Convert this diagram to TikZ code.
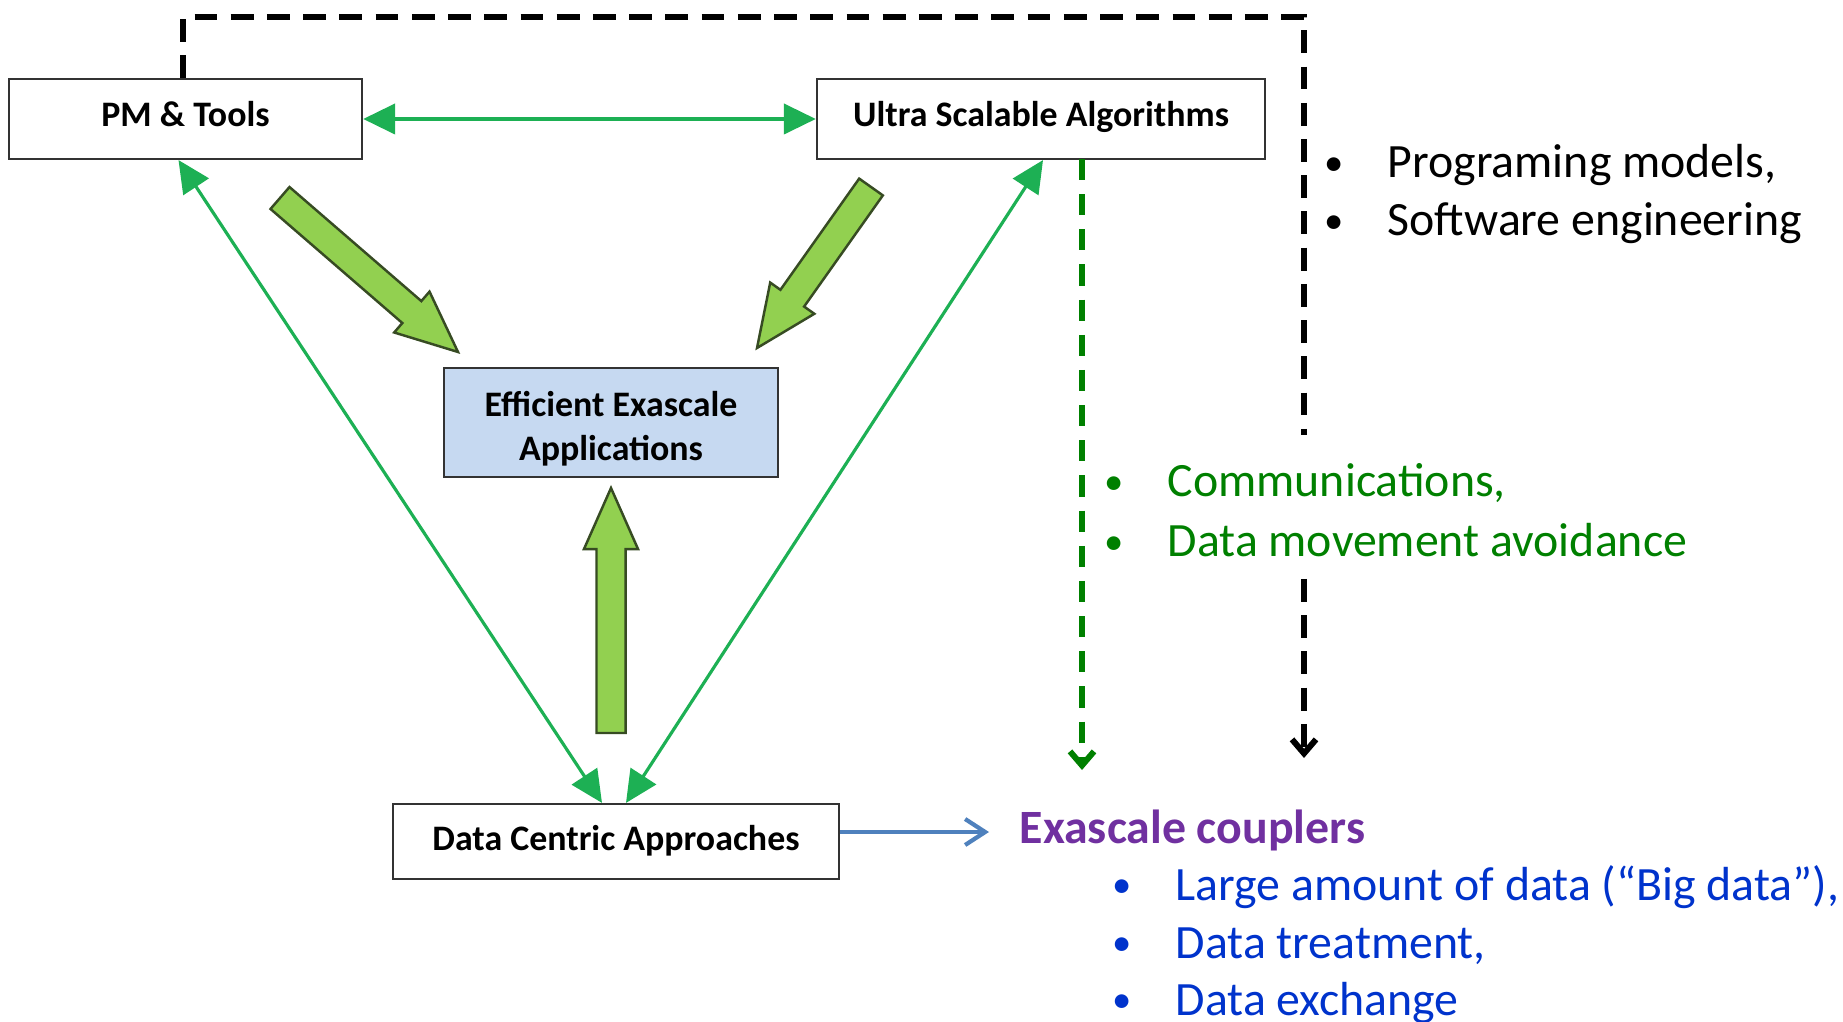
\documentclass[tikz,border=0pt]{standalone}
\usepackage{fontspec}
\setmainfont{Carlito}
\usetikzlibrary{arrows.meta,calc}
\definecolor{arrgreen}{RGB}{29,176,84}
\definecolor{fatgreen}{RGB}{146,208,80}
\definecolor{fatedge}{RGB}{55,75,35}
\definecolor{appblue}{RGB}{198,217,241}
\definecolor{dkgreen}{RGB}{0,128,0}
\definecolor{txtblue}{RGB}{0,51,204}
\definecolor{cplpurple}{RGB}{112,48,160}
\definecolor{linkblue}{RGB}{79,129,189}

% block arrow from #1 (tail) to #2 (tip)
\newcommand{\fatarrow}[2]{%
  \coordinate (hb) at ($(#2)!0.61cm!(#1)$);
  \draw[fat] ($(#1)!0.145cm!90:(#2)$) -- ($(hb)!0.145cm!90:(#2)$) -- ($(hb)!0.27cm!90:(#2)$) -- (#2)
    -- ($(hb)!0.27cm!-90:(#2)$) -- ($(hb)!0.145cm!-90:(#2)$) -- ($(#1)!0.145cm!-90:(#2)$) -- cycle;}
% list bullet hanging left of the text
\newcommand{\bul}{\llap{\raisebox{0.6pt}{\fontsize{11}{11}\selectfont\textbullet}\hspace{0.44cm}}}

\begin{document}
\begin{tikzpicture}[x=0.01cm,y=-0.01cm]
	\tikzstyle{box} = [draw=black!80, line width=0.6pt, inner sep=0, align=center, font=\fontsize{10.2}{12.5}\selectfont\bfseries]
	\tikzstyle{oneline} = [text height=7.4pt, text depth=3.3pt]
	\tikzstyle{link} = [draw=arrgreen, line width=0.9pt, {Triangle[length=0.32cm,width=0.3cm]}-{Triangle[length=0.32cm,width=0.3cm]}]
	\tikzstyle{fat} = [draw=fatedge, fill=fatgreen, line width=0.7pt, line join=miter]
	\tikzstyle{dashline} = [line width=1.7pt, dash pattern=on 6.5pt off 3.8pt, -{Straight Barb[length=0.14cm,width=0.24cm]}]
	\tikzstyle{bl} = [anchor=base west, inner sep=0, font=\fontsize{13.6}{16}\selectfont]
	\useasboundingbox (0,0) rectangle (1843,1022);
		\node[box, oneline, minimum width=3.53cm, minimum height=0.8cm] (pm) at (185.5,119) {PM \& Tools};
		\node[box, oneline, minimum width=4.48cm, minimum height=0.8cm] (usa) at (1041,119) {Ultra Scalable Algorithms};
		\node[box, fill=appblue, text height=21.4pt, text depth=0pt, minimum width=3.34cm, minimum height=1.09cm] (eea) at (611,422.5) {Efficient Exascale\\Applications};
		\node[box, oneline, text depth=2.4pt, minimum width=4.46cm, minimum height=0.75cm] (dca) at (616,841.5) {Data Centric Approaches};
	% free ends
	\coordinate (dcl) at ($(dca.north)+(-14,0)$);
	\coordinate (dcr) at ($(dca.north)+(10,0)$);
	\coordinate (pmb) at ($(pm.south)+(-7,0)$);
	\coordinate (usab) at ($(usa.south)+(2,0)$);
	\coordinate (t1) at (280,198);  \coordinate (h1) at (458,352);
	\coordinate (t2) at (871,187);  \coordinate (h2) at (757,348);
	\coordinate (t3) at (611,733);  \coordinate (h3) at (611,488);
	\coordinate (gs) at (1082,159); \coordinate (ge) at (1082,770);
	\coordinate (k1) at (1304,17);  \coordinate (k2) at (1304,435);
	\coordinate (k3) at (1304,579); \coordinate (k4) at (1304,758);
	\coordinate (bt) at (989,832);
	\draw[link, line width=1.2pt] (pm) -- (usa);
	\draw[link] (pmb) -- (dcl);
	\draw[link] (usab) -- (dcr);
	\fatarrow{t1}{h1}
	\fatarrow{t2}{h2}
	\fatarrow{t3}{h3}
	\draw[dashline, draw=dkgreen, dash pattern=on 6pt off 4pt] (gs) -- (ge);
	\draw[dashline, -] (pm.north -| 183,0) |- (k1) -- (k2);
	\draw[dashline] (k3) -- (k4);
	\draw[linkblue, line width=1.2pt, -{Straight Barb[length=0.2cm,width=0.26cm]}] (dca.east |- bt) -- (bt);
	% lists
		\node[bl] (p1) at (1387,178) {\bul Programing models,};
		\node[bl] (p2) at (1387,236) {\bul Software engineering};
		\node[bl, text=dkgreen] (c1) at (1167,497) {\bul Communications,};
		\node[bl, text=dkgreen] (c2) at (1167,557) {\bul Data movement avoidance};
		\node[bl, text=cplpurple, font=\fontsize{13.6}{16}\selectfont\bfseries] (ec) at (1019,843) {Exascale couplers};
		\node[bl, text=txtblue] (b1) at (1175,900) {\bul Large amount of data (“Big data”),};
		\node[bl, text=txtblue] (b2) at (1175,958) {\bul Data treatment,};
		\node[bl, text=txtblue] (b3) at (1175,1015) {\bul Data exchange};
\end{tikzpicture}
\end{document}
